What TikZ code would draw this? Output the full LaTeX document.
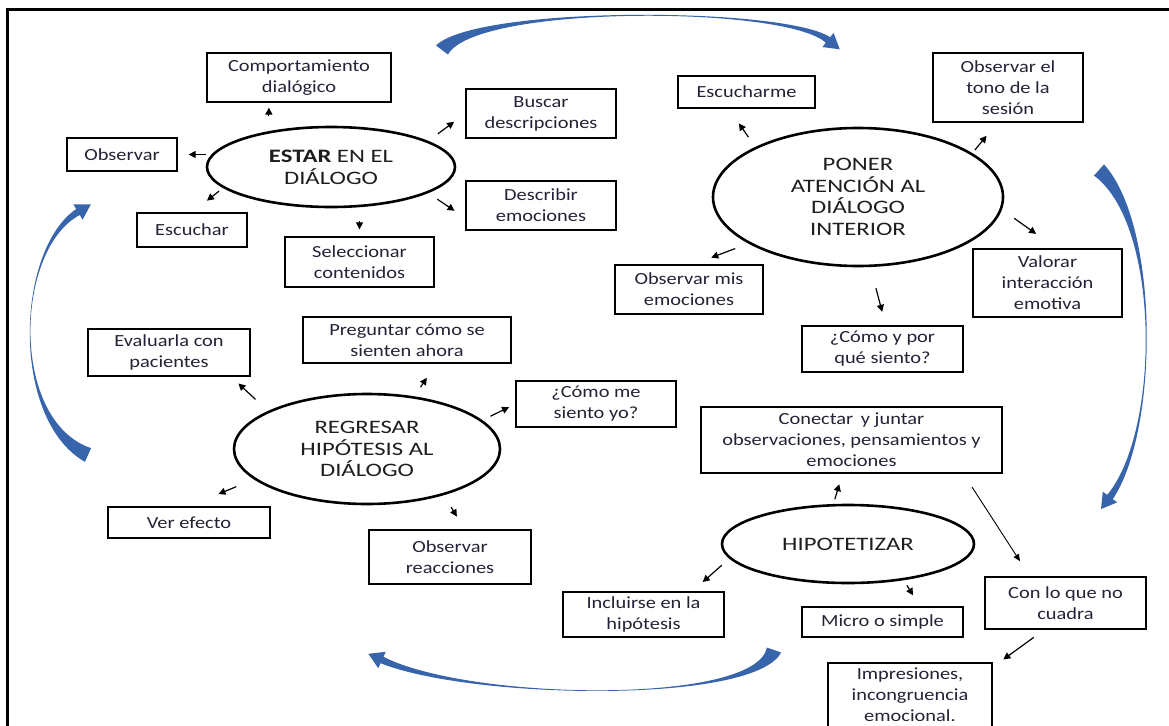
\documentclass[tikz,border=0pt]{standalone}
\usepackage{fontspec}
\setmainfont{Carlito}
\newfontfamily\boxfont[FakeStretch=1.2]{Carlito}
\newfontfamily\ellfont[FakeStretch=1.3]{Carlito}
\usetikzlibrary{shapes.geometric,arrows.meta,calc}

\definecolor{flowblue}{RGB}{55,100,170}
\definecolor{boxtext}{RGB}{35,35,55}
\definecolor{elltext}{RGB}{30,30,30}

% thick tapered blue arc with an arrow head; #1..#4 are the control points of its centre line
\newcommand\cyclearrow[4]{%
  \coordinate (q0) at #1; \coordinate (q1) at #2;
  \coordinate (q2) at #3; \coordinate (q3) at #4;
  \fill[flowblue]
    ($(q0)!7.5pt!90:(q1)$) .. controls ($(q1)!-0.8pt!-90:(q0)$) and ($(q2)!-0.8pt!90:(q3)$) .. ($(q3)!3.5pt!-90:(q2)$)
    -- ($(q3)!9pt!-90:(q2)$) -- ($(q3)!-15pt!(q2)$) -- ($(q3)!9pt!90:(q2)$) -- ($(q3)!3.5pt!90:(q2)$)
    .. controls ($(q2)!-0.8pt!-90:(q3)$) and ($(q1)!-0.8pt!90:(q0)$) .. ($(q0)!7.5pt!-90:(q1)$) -- cycle;
}

\tikzset{
  box/.style={draw=black, line width=1.3pt, inner sep=2pt, align=center, text=boxtext,
    font={\boxfont\fontsize{17}{21}\selectfont}},
  stage/.style={ellipse, draw=black, line width=2.6pt, inner sep=0pt, align=center, text=elltext,
    font={\ellfont\fontsize{19}{21.7}\selectfont}},
  arr/.style={line width=1.2pt, -{Triangle[length=7pt,width=7pt]}},
  longarr/.style={line width=0.9pt, -{Triangle[length=7pt,width=6pt]}},
}

\begin{document}
\begin{tikzpicture}[x=1pt,y=-1pt]
\useasboundingbox (0,0) rectangle (1169,725);
\fill[white] (0,0) rectangle (1169,725);

% frame
\draw[line width=3pt, line join=miter] (7,760) -- (7,10) -- (1200,10);

% stage: estar en el dialogo
\node[stage, minimum width=248pt, minimum height=80pt] (estar) at (331,167) {\textbf{ESTAR} EN EL\\DIÁLOGO};
\node[box, minimum width=184pt, minimum height=49pt] (comp) at (299,77.5) {Comportamiento\\dialógico};
\node[box, minimum width=150pt, minimum height=49pt] (buscar) at (541,113.5) {Buscar\\descripciones};
\node[box, minimum width=110pt, minimum height=33pt] (obs) at (122,154.5) {Observar};
\node[box, minimum width=110pt, minimum height=34pt] (escu) at (192,230) {Escuchar};
\node[box, minimum width=149pt, minimum height=50pt] (selec) at (359.5,262) {Seleccionar\\contenidos};
\node[box, minimum width=150pt, minimum height=49pt] (desc) at (541,205.5) {Describir\\emociones};

% stage: poner atencion al dialogo interior
\node[stage, minimum width=290pt, minimum height=138pt] (poner) at (858,197) {PONER\\ATENCIÓN AL\\DIÁLOGO\\INTERIOR};
\node[box, minimum width=137pt, minimum height=32pt] (escme) at (746.5,92) {Escucharme};
\node[box, minimum width=150pt, minimum height=69pt] (tono) at (1008,87.5) {Observar el\\tono de la\\sesión};
\node[box, minimum width=148pt, minimum height=49pt] (obsmis) at (689,289.5) {Observar mis\\emociones};
\node[box, minimum width=149pt, minimum height=68pt] (val) at (1047.5,283) {Valorar\\interacción\\emotiva};
\node[box, minimum width=161pt, minimum height=46pt] (como) at (882.5,349) {¿Cómo y por\\qué siento?};

% stage: regresar hipotesis al dialogo
\node[stage, minimum width=266pt, minimum height=110pt] (regr) at (367,449) {REGRESAR\\HIPÓTESIS AL\\DIÁLOGO};
\node[box, minimum width=162pt, minimum height=47pt] (eval) at (169,352.5) {Evaluarla con\\pacientes};
\node[box, minimum width=208pt, minimum height=46pt] (preg) at (407,340) {Preguntar cómo se\\sienten ahora};
\node[box, minimum width=160pt, minimum height=46pt] (comome) at (596,404) {¿Cómo me\\siento yo?};
\node[box, minimum width=162pt, minimum height=31pt] (ver) at (189,522.5) {Ver efecto};
\node[box, minimum width=162pt, minimum height=54pt] (reac) at (450,557) {Observar\\reacciones};

% stage: hipotetizar
\node[stage, minimum width=252pt, minimum height=78pt] (hipo) at (848,544) {HIPOTETIZAR};
\node[box, minimum width=301pt, minimum height=66pt] (conec) at (851.5,440) {Conectar\;\,y juntar\\observaciones, pensamientos y\\emociones};
\node[box, minimum width=161pt, minimum height=45pt] (incl) at (643.5,614.5) {Incluirse en la\\hipótesis};
\node[box, minimum width=161pt, minimum height=30pt] (micro) at (882.5,622) {Micro o simple};
\node[box, minimum width=161pt, minimum height=52pt] (cuadra) at (1065.5,603) {Con lo que no\\cuadra};
\node[box, minimum width=164pt, minimum height=64pt] (impr) at (910,695) {Impresiones,\\incongruencia\\emocional.};

% short arrows around estar
\draw[arr, shorten <=15pt, shorten >=5pt] (estar.150) -- (comp.south -| estar.150);
\draw[arr, shorten >=11pt] (estar.west |- obs.east) -- (obs.east);
\draw[arr, shorten <=5pt, shorten >=19pt] (estar.191) -- (escu.north);
\draw[arr, shorten <=13pt, shorten >=7pt] (estar.south -| selec.north) -- (selec.north);
\draw[arr, shorten <=12pt, shorten >=14pt] (estar.15) -- (buscar.west);
\draw[arr, shorten <=11pt, shorten >=13pt] (estar.-15) -- ($(desc.west)!.5!(desc.south west)$);

% short arrows around poner
\draw[arr, shorten <=12pt, shorten >=18pt] (poner.154) -- ($(escme.south west)!.37!(escme.south east)$);
\draw[arr, shorten <=4pt, shorten >=17pt] (poner.21) -- ($(tono.south west)!.43!(tono.south east)$);
\draw[arr, shorten <=15pt, shorten >=25pt] (poner.-5) -- ($(val.north west)!.56!(val.north east)$);
\draw[arr, shorten <=14pt, shorten >=19pt] (poner.203) -- ($(obsmis.north west)!.53!(obsmis.north east)$);
\draw[arr, shorten <=22pt, shorten >=14pt] (poner.-80) -- ($(como.north west)!.52!(como.north east)$);

% short arrows around regresar
\draw[arr, shorten <=17pt, shorten >=10pt] (regr.159) -- ($(eval.south west)!.88!(eval.south east)$);
\draw[arr, shorten <=11pt, shorten >=17pt] (regr.48) -- ($(preg.south west)!.64!(preg.south east)$);
\draw[arr, shorten <=9pt, shorten >=7pt] (regr.14) -- (comome.west);
\draw[arr, shorten <=19pt, shorten >=32pt] (regr.195) -- (ver.north);
\draw[arr, shorten <=14pt, shorten >=15pt] (regr.-31) -- ($(reac.north west)!.59!(reac.north east)$);

% short arrows around hipotetizar
\draw[arr, shorten <=5pt, shorten >=11pt] (hipo.110) -- ($(conec.south west)!.47!(conec.south east)$);
\draw[arr, shorten <=10pt, shorten >=14pt] (hipo.187) -- ($(incl.north west)!.8!(incl.north east)$);
\draw[arr, shorten <=6pt, shorten >=13pt] (hipo.-33) -- ($(micro.north west)!.73!(micro.north east)$);
\draw[longarr, shorten <=16pt, shorten >=18pt] ($(conec.south west)!.87!(conec.south east)$) -- ($(cuadra.north west)!.28!(cuadra.north east)$);
\draw[arr, shorten <=13pt, shorten >=5pt] ($(cuadra.south west)!.37!(cuadra.south east)$) -- ($(impr.north west)!1.04!(impr.north east)$);

% big blue arrows linking the four stages
\cyclearrow{(442,50)}{(476,5)}{(785,6)}{(828,40)}
\cyclearrow{(1099,170)}{(1160,225)}{(1160,430)}{(1110,497)}
\cyclearrow{(774,650)}{(755,705)}{(470,700)}{(382,660)}
\cyclearrow{(88,455)}{(10,420)}{(15,250)}{(78,212)}
\end{tikzpicture}
\end{document}
